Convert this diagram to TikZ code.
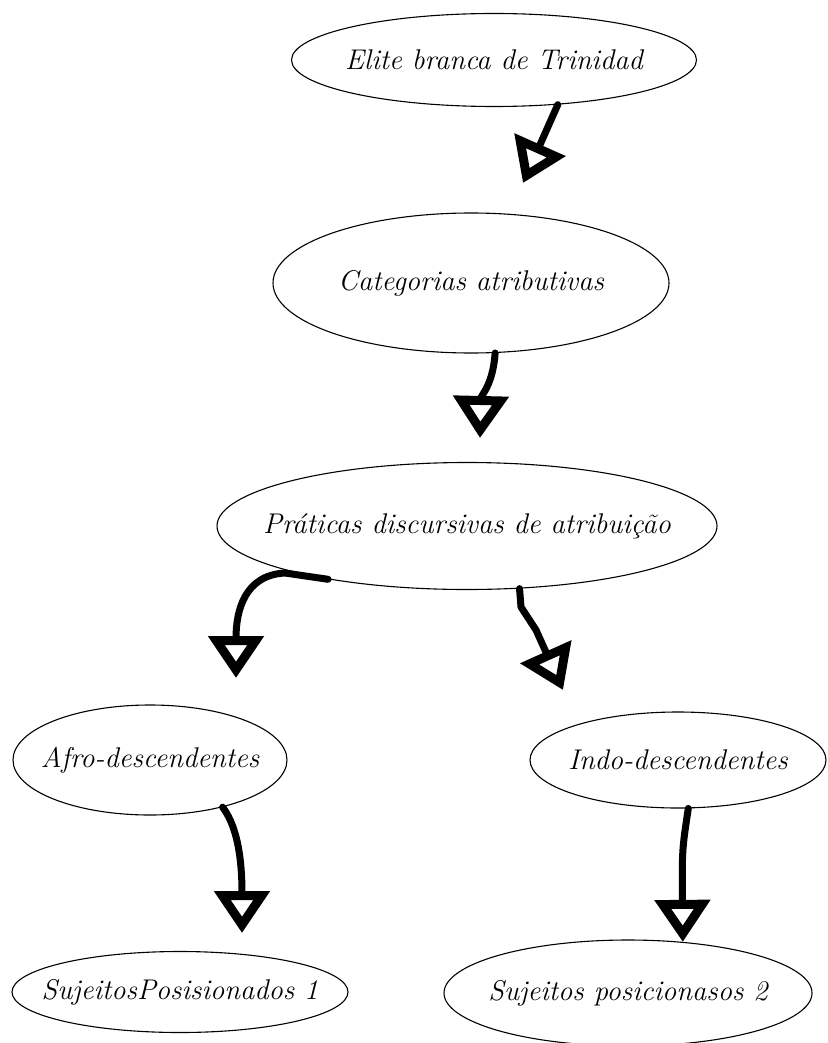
\documentclass[tikz,border=0pt]{standalone}
\usepackage{tikz}
\usetikzlibrary{shapes.geometric,arrows.meta}

\begin{document}
\begin{tikzpicture}[x=1pt,y=-1pt,
  oval/.style={draw,ellipse,line width=1.1pt,inner xsep=-60pt,inner ysep=0pt,font=\fontsize{28.5}{32}\selectfont\itshape},
  conn/.style={line width=7pt,line cap=round,line join=round,-{Triangle[open,length=42pt,width=54pt,line width=9pt]}}]
\useasboundingbox (0,0) rectangle (827,1043);
% ovals, top to bottom
\node[oval,minimum width=405pt,minimum height=93pt] (elite) at (494,60) {Elite branca de Trinidad};
\node[oval,minimum width=396pt,minimum height=140pt] (categ) at (471,283) {Categorias atributivas};
\node[oval,minimum width=500pt,minimum height=127pt] (prat) at (467,526) {Práticas discursivas de atribuição};
\node[oval,minimum width=274pt,minimum height=110pt] (afro) at (150,760) {Afro-descendentes};
\node[oval,minimum width=296pt,minimum height=96pt] (indo) at (678,760) {Indo-descendentes};
\node[oval,minimum width=336pt,minimum height=81pt] (suj1) at (180,992) {SujeitosPosisionados 1};
\node[oval,minimum width=368pt,minimum height=106pt] (suj2) at (628,993) {Sujeitos posicionasos 2};
% free arrow ends
\coordinate (tip1) at (523,183);
\coordinate (tip2) at (480,438);
\coordinate (tip3) at (236,678);
\coordinate (tip4) at (563,690);
\coordinate (tip5) at (242,933);
% arrows
\draw[conn] (elite.-35) -- (tip1);
\draw[conn] (categ.-71) .. controls (493,385) and (481,395) .. (tip2);
\draw[conn] (prat.-159) -- (285,573) .. controls (245,575) and (236,610) .. (tip3);
\draw[conn] (prat.-50) -- (521,607) -- (536,630) -- (tip4);
\draw[conn] (afro.-33) .. controls (240,830) and (242,870) .. (tip5);
\draw[conn] (indo.-78) .. controls (682,850) .. (suj2.43);
\end{tikzpicture}
\end{document}
